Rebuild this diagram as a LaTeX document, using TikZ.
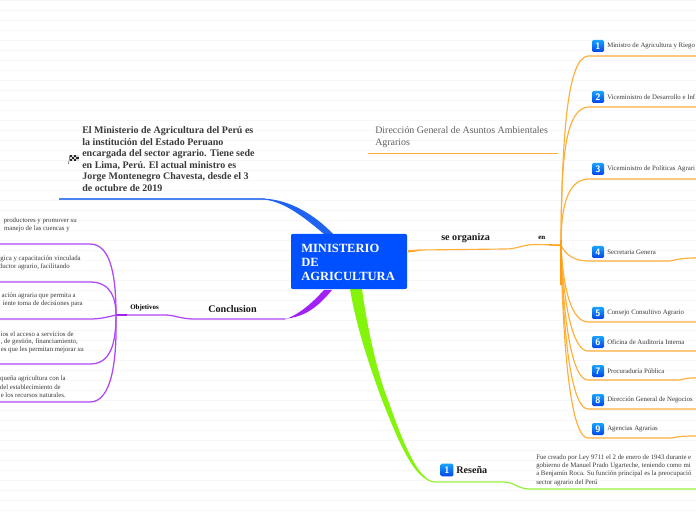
\documentclass[tikz,border=0pt]{standalone}
\usepackage{fontspec}
\setmainfont{Liberation Serif}
\definecolor{coreblue}{HTML}{0050FF}
\definecolor{brblue}{HTML}{1F63F0}
\definecolor{brblueline}{HTML}{4A82F2}
\definecolor{brpurple}{HTML}{A020F5}
\definecolor{brpurpleline}{HTML}{B048F8}
\definecolor{brgreen}{HTML}{84F50A}
\definecolor{brgreenline}{HTML}{98F040}
\definecolor{brorange}{HTML}{FF9F0F}
\definecolor{brorangeline}{HTML}{FFAE38}
\definecolor{txtgray}{HTML}{3A3A3A}
\tikzset{
  tiny text/.style={inner sep=0pt,anchor=west,font=\fontsize{5.1pt}{6pt}\selectfont,text=txtgray},
  cut text/.style={inner sep=0pt,anchor=east,font=\fontsize{5.1pt}{6pt}\selectfont,text=txtgray},
  head text/.style={inner sep=0pt,anchor=west,font=\fontsize{7.6pt}{8.9pt}\selectfont\bfseries,text=black!90},
  small head/.style={inner sep=0pt,anchor=west,font=\fontsize{5.2pt}{6pt}\selectfont\bfseries,text=black},
  orange link/.style={draw=brorangeline,line width=0.85pt},
  purple link/.style={draw=brpurpleline,line width=0.95pt},
  green link/.style={draw=brgreenline,line width=0.95pt},
  badge/.style={top color=black!0!blue!40!cyan!90!white,bottom color=blue!70!cyan!90!black,rounded corners=1pt,minimum size=9pt,inner sep=0pt,text=white,font=\fontsize{7pt}{7pt}\selectfont\bfseries\sffamily},
}
\begin{document}
\begin{tikzpicture}[x=0.75pt,y=-0.75pt]
\useasboundingbox (0,0) rectangle (696,520);
\clip (0,0) rectangle (696,520);
\fill[white] (0,0) rectangle (696,520);
\foreach \yy in {0,10,...,520} \draw[black!3,line width=0.4pt] (0,\yy) -- (696,\yy);

% junction points
\coordinate (hub) at (561,245);
\coordinate (obj) at (116,315);

% blue branch
\fill[brblue] (333,234) .. controls (315,215) and (290,200) .. (265,198.7) -- (265,199.7) .. controls (285,202) and (305,218) .. (324,234) -- cycle;
\draw[brblueline,line width=0.8pt] (265,199) -- (59,199);
% purple branch
\fill[brpurple] (332,290) .. controls (318,307) and (305,317) .. (285,318.7) -- (285,319.4) .. controls (300,314) and (312,303) .. (324,290) -- cycle;
\draw[purple link] (285,319) -- (195,319) .. controls (180,319) and (175,315) .. (165,315) -- (obj);
\draw[brpurple,line width=1.1pt] (obj) -- (127,315);
% green branch
\fill[brgreen] (350,289) -- (362,289) .. controls (366,320) and (376,370) .. (388,400) .. controls (402,440) and (418,481.5) .. (435,481.5) -- (435,482.5) .. controls (414,481) and (398,440) .. (382,400) .. controls (368,362) and (356,325) .. (350,289) -- cycle;
\draw[green link] (435,482) -- (503,482) .. controls (515,482) and (517,489) .. (530,489) -- (696,489);
% orange trunk
\fill[brorange] (408,250) -- (420,250) -- (420,251) -- (408,252.5) -- cycle;
\draw[orange link] (408,251) -- (420,250) -- (505,249) .. controls (518,249) and (520,245) .. (535,244.5) -- (hub);
\fill[brorange] (549,244) -- (hub) -- (561,246) -- (549,245.5) -- cycle;
\coordinate (b1) at (588,56);
\coordinate (b2) at (588,107);
\coordinate (b3) at (588,179);
\coordinate (b4) at (588,261);
\coordinate (b5) at (588,322);
\coordinate (b6) at (588,351);
\coordinate (b7) at (588,380);
\coordinate (b8) at (588,409);
\coordinate (b9) at (588,438);
\draw[orange link] (hub) .. controls (562,130) and (568,58) .. (b1) -- (696,56);
\draw[orange link] (hub) .. controls (561,160) and (565,109) .. (b2) -- (696,107);
\draw[orange link] (hub) .. controls (561,205) and (568,180) .. (b3) -- (696,179);
\draw[orange link] (hub) .. controls (563,250) and (570,261) .. (b4) -- (670,261) .. controls (678,259) and (685,258) .. (696,258);
\draw[orange link] (hub) .. controls (563,290) and (572,322) .. (b5) -- (696,322);
\draw[orange link] (hub) .. controls (563,300) and (572,351) .. (b6) -- (696,351);
\draw[orange link] (hub) .. controls (563,320) and (572,380) .. (b7) -- (680,380) .. controls (686,378) and (690,378) .. (696,378);
\draw[orange link] (hub) .. controls (563,340) and (572,409) .. (b8) -- (696,409);
\draw[orange link] (hub) .. controls (563,360) and (572,438) .. (b9) -- (672,438) .. controls (680,436) and (688,436) .. (696,436);
\draw[brorange,line width=1.4pt] (561,240) -- (561,285);
% purple fan
\coordinate (p1) at (90,244);
\coordinate (p2) at (90,282);
\coordinate (p3) at (90,319);
\coordinate (p4) at (90,364);
\coordinate (p5) at (90,402);
\draw[purple link] (obj) .. controls (116,280) and (112,244) .. (p1) -- (0,244);
\draw[purple link] (obj) .. controls (116,300) and (112,282) .. (p2) -- (0,282);
\draw[purple link] (obj) .. controls (108,317) and (100,319) .. (p3) -- (0,319);
\draw[purple link] (obj) .. controls (116,345) and (110,364) .. (p4) -- (0,364);
\draw[purple link] (obj) .. controls (117,360) and (112,402) .. (p5) -- (0,402);

% central
\node[fill=coreblue,rounded corners=1.5pt,minimum width=87pt,minimum height=41.5pt,inner sep=0pt] (core) at (349,261.5) {};
\node[inner sep=0pt,anchor=west,align=left,text=white,font=\fontsize{9.4pt}{10.5pt}\selectfont\bfseries] (coretext) at (301,262) {MINISTERIO\\DE\\AGRICULTURA};

% intro text
\node[inner sep=0pt,anchor=west,align=left,text=txtgray,font=\fontsize{7.5pt}{8.6pt}\selectfont\bfseries] (intro) at (82,159) {El Ministerio de Agricultura del Perú es\\la institución del Estado Peruano\\encargada del sector agrario. Tiene sede\\en Lima, Perú. El actual ministro es\\Jorge Montenegro Chavesta, desde el 3\\de octubre de 2019};
% flag
\draw[black!70,line width=0.4pt] (68.5,164) -- (70,155);
\foreach \ii in {0,1,2,3} \foreach \jj in {0,1,2} {
  \pgfmathparse{int(mod(\ii+\jj,2))}
  \ifnum\pgfmathresult=0 \fill[black!85] (69.8+2.2*\ii,154.6+2.2*\jj) rectangle ++(2.2,2.2);\else \fill[black!15] (69.8+2.2*\ii,154.6+2.2*\jj) rectangle ++(2.2,2.2);\fi
}

\node[inner sep=0pt,anchor=west,align=left,text=txtgray!80,font=\fontsize{7.45pt}{9pt}\selectfont] (dga) at (375,137) {Dirección General de Asuntos Ambientales\\Agrarios};
\draw[draw=brorangeline,line width=0.6pt] (368,153) -- (558,153);

% heads
\node[head text] (seorg) at (441,238) {se organiza};
\node[small head] (en) at (538,238) {en};
\node[head text] (concl) at (208,309) {Conclusion};
\node[small head] (objt) at (130,308) {Objetivos};
\node[badge,minimum size=9.5pt] (bres) at (447,470) {1};
\node[head text] (res) at (456,470) {Reseña};

% right items
\foreach \nn/\yy/\tt in {
  1/46/Ministro de Agricultura y Riego,
  2/97/Viceministro de Desarrollo e Inf,
  3/169/Viceministro de Políticas Agrari,
  4/252/Secretaria Genera,
  5/313/Consejo Consultivo Agrario,
  6/342/Oficina de Auditoria Interna,
  7/371/Procuraduría Pública,
  8/400/Dirección General de Negocios,
  9/429/Agencias Agrarias} {
  \node[badge] (bdg\nn) at (598,\yy) {\nn};
  \node[tiny text] (item\nn) at (607,\yy) {\tt};
}

\node[tiny text,align=left,font=\fontsize{5.1pt}{6.2pt}\selectfont] (resena) at (536,470) {Fue creado por Ley 9711 el 2 de enero de 1943 durante e\\gobierno de Manuel Prado Ugarteche, teniendo como mi\\a Benjamín Roca. Su función principal es la preocupació\\sector agrario del Perú};

% left clipped text
\node[cut text] (l11) at (77,221) {productores y promover su};
\node[cut text] (l12) at (70,229) {manejo de las cuencas y};
\node[cut text] (l21) at (81,259) {gica y capacitación vinculada};
\node[cut text] (l22) at (70,267) {ductor agrario, facilitando};
\node[cut text] (l31) at (76,296) {ación agraria que permita a};
\node[cut text] (l32) at (83,304) {iente toma de decisiones para};
\node[cut text] (l41) at (74,334) {ios el acceso a servicios de};
\node[cut text] (l42) at (78,342) {, de gestión, financiamiento,};
\node[cut text] (l43) at (84,350) {es que les permitan mejorar su};
\node[cut text] (l51) at (66,379) {queña agricultura con la};
\node[cut text] (l52) at (61,387) {del establecimiento de};
\node[cut text] (l53) at (66,395) {e los recursos naturales.};
\end{tikzpicture}
\end{document}
